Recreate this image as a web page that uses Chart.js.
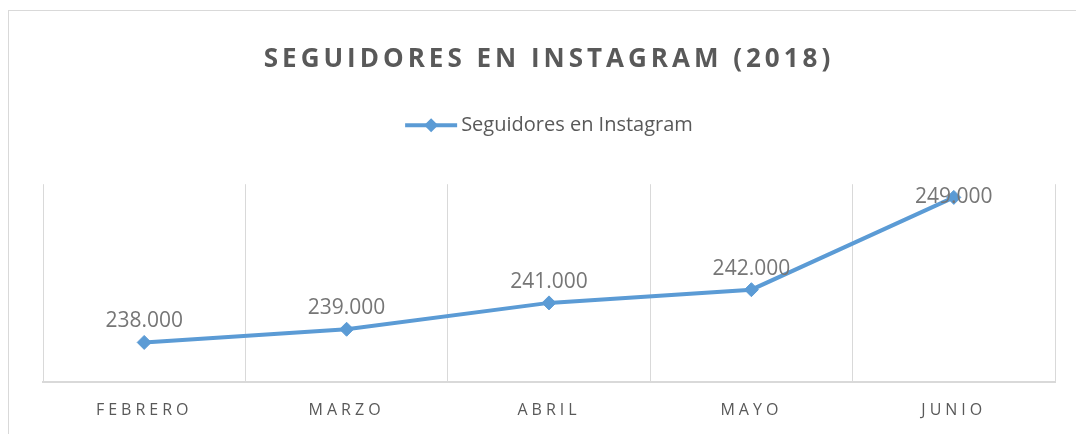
<!DOCTYPE html>
<html>
<head>
<meta charset="utf-8">
<script src="https://cdn.jsdelivr.net/npm/chart.js@4/dist/chart.umd.min.js"></script>
<style>
    html, body { margin: 0; padding: 0; background: #fff; }
    .marco {
        position: absolute; left: 8px; top: 10px; width: 1200px; height: 600px;
        border-left: 1px solid #d9d9d9; border-top: 1px solid #d9d9d9;
    }
    .contenedor { position: absolute; left: 0; top: 0; width: 1076px; height: 434px; }
</style>
</head>
<body>
<div class="marco"></div>
<div class="contenedor"><canvas id="grafico"></canvas></div>
<script>
const meses = ['FEBRERO', 'MARZO', 'ABRIL', 'MAYO', 'JUNIO'];
const seguidores = [238000, 239000, 241000, 242000, 249000];
const nombreSerie = 'Seguidores en Instagram';
const titulo = 'SEGUIDORES EN INSTAGRAM (2018)';
const ejeMin = 235000;
const ejeMax = 250000;

const AZUL = '#5b9bd5';
const GRIS_TEXTO = '#595959';
const FUENTE = "'Open Sans', 'DejaVu Sans', sans-serif";

function formatoMiles(v) {
    return String(v).replace(/\B(?=(\d{3})+(?!\d))/g, '.');
}

// espaciado de letras para título y etiquetas del eje
const espaciado = {
    id: 'espaciado',
    beforeDraw(chart) { chart.ctx.letterSpacing = '4px'; },
    beforeDatasetsDraw(chart) { chart.ctx.letterSpacing = '0px'; }
};

// etiquetas de datos encima de cada punto
const etiquetas = {
    id: 'etiquetas',
    afterDatasetsDraw(chart) {
        const ctx = chart.ctx;
        const meta = chart.getDatasetMeta(0);
        const area = chart.chartArea;
        ctx.save();
        ctx.letterSpacing = '0px';
        ctx.font = '21px ' + FUENTE;
        ctx.fillStyle = '#767676';
        ctx.textAlign = 'center';
        ctx.textBaseline = 'middle';
        meta.data.forEach((p, i) => {
            let y = p.y - 21;
            if (y < area.top + 13) y = area.top + 13;
            ctx.fillText(formatoMiles(chart.data.datasets[0].data[i]), p.x, y);
        });
        ctx.restore();
    }
};

// leyenda: línea con rombo y texto
const leyenda = {
    id: 'leyendaPropia',
    afterDraw(chart) {
        const ctx = chart.ctx;
        const area = chart.chartArea;
        ctx.save();
        ctx.letterSpacing = '0px';
        ctx.font = '20px ' + FUENTE;
        const anchoTexto = ctx.measureText(nombreSerie).width;
        const anchoLinea = 52;
        const total = anchoLinea + 4 + anchoTexto;
        const x0 = (area.left + area.right) / 2 - total / 2;
        const y = area.top - 59;
        ctx.strokeStyle = AZUL;
        ctx.lineWidth = 4;
        ctx.beginPath();
        ctx.moveTo(x0, y);
        ctx.lineTo(x0 + anchoLinea, y);
        ctx.stroke();
        ctx.fillStyle = AZUL;
        ctx.beginPath();
        const r = 7;
        ctx.moveTo(x0 + anchoLinea / 2, y - r);
        ctx.lineTo(x0 + anchoLinea / 2 + r, y);
        ctx.lineTo(x0 + anchoLinea / 2, y + r);
        ctx.lineTo(x0 + anchoLinea / 2 - r, y);
        ctx.closePath();
        ctx.fill();
        ctx.fillStyle = GRIS_TEXTO;
        ctx.textAlign = 'left';
        ctx.textBaseline = 'middle';
        ctx.fillText(nombreSerie, x0 + anchoLinea + 4, y);
        ctx.restore();
    }
};

const ctx = document.getElementById('grafico').getContext('2d');
new Chart(ctx, {
    type: 'line',
    data: {
        labels: meses,
        datasets: [{
            label: nombreSerie,
            data: seguidores,
            borderColor: AZUL,
            backgroundColor: AZUL,
            borderWidth: 4,
            tension: 0,
            pointStyle: 'rectRot',
            pointRadius: 7,
            pointHoverRadius: 7,
            pointBorderWidth: 1,
            pointBackgroundColor: AZUL,
            pointBorderColor: AZUL,
            fill: false
        }]
    },
    options: {
        responsive: true,
        maintainAspectRatio: false,
        animation: false,
        layout: { padding: { top: 0, left: 43, right: 21, bottom: 13 } },
        scales: {
            x: {
                offset: true,
                grid: { display: true, offset: true, color: '#d9d9d9', lineWidth: 1, drawTicks: false },
                border: { display: true, color: '#d9d9d9', width: 2 },
                ticks: { color: GRIS_TEXTO, font: { family: FUENTE, size: 16 }, padding: 19 },
                afterFit(scale) { scale.height = 39; }
            },
            y: {
                display: false,
                min: ejeMin,
                max: ejeMax
            }
        },
        plugins: {
            legend: { display: false },
            tooltip: { enabled: false },
            title: {
                display: true,
                text: titulo,
                color: GRIS_TEXTO,
                font: { family: FUENTE, size: 26, weight: 'bold' },
                padding: { top: 44, bottom: 109 }
            }
        }
    },
    plugins: [espaciado, etiquetas, leyenda]
});
</script>
</body>
</html>
